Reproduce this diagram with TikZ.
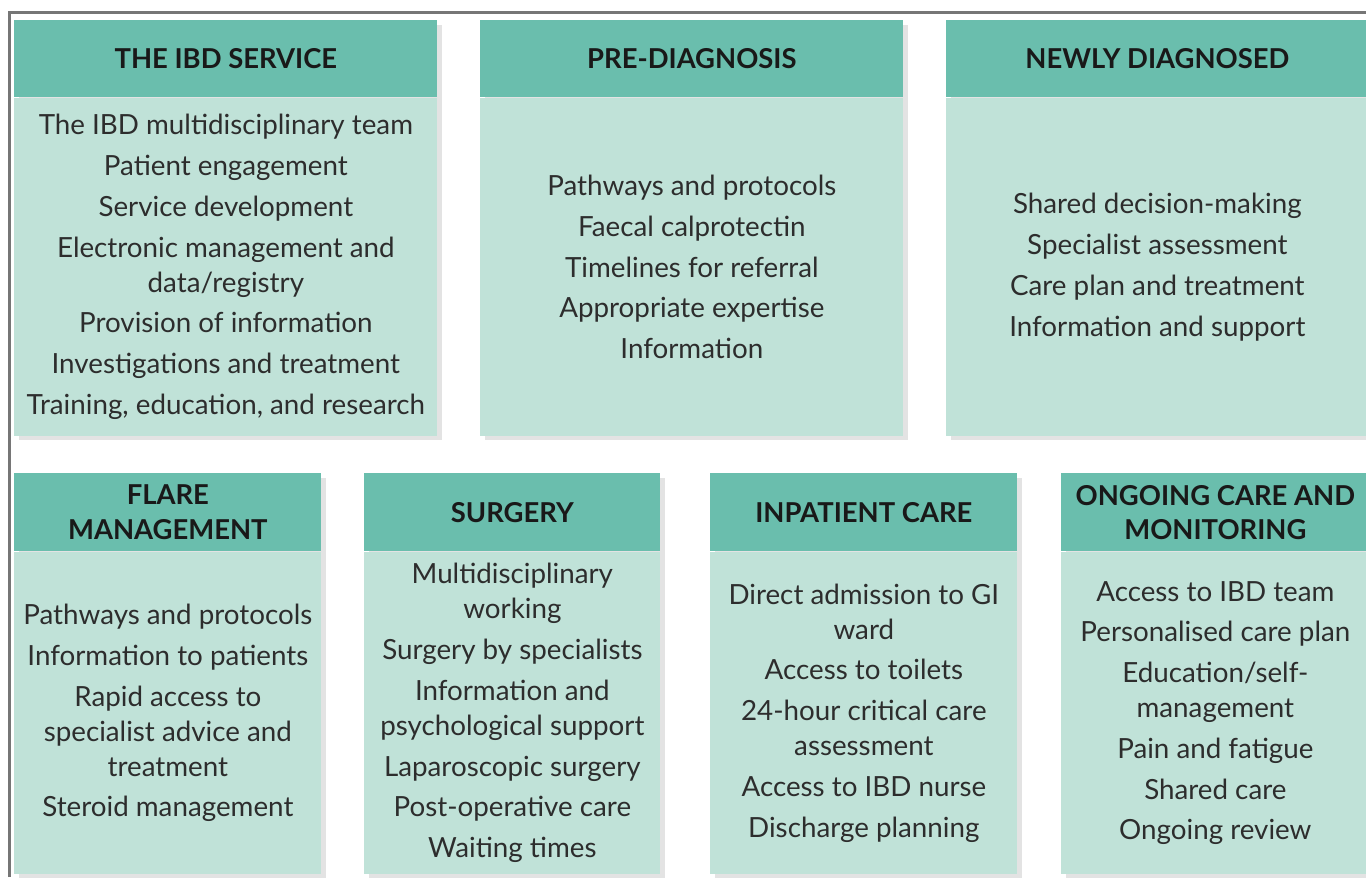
\documentclass[tikz,border=0pt]{standalone}
\usepackage{fontspec}
\setmainfont{Lato}
\usetikzlibrary{positioning,shadows}

\definecolor{headgreen}{RGB}{106,190,173}
\definecolor{bodygreen}{RGB}{192,226,216}
\definecolor{textgrey}{RGB}{45,45,45}
\definecolor{framegrey}{RGB}{118,118,118}

\def\pxu{0.02cm}
\def\gap{\\[3.3pt]}

\tikzset{
  boxshadow/.style={drop shadow={opacity=0.22, shadow xshift=2.5pt, shadow yshift=-2.5pt}},
  headbox/.style={fill=headgreen, boxshadow, inner sep=0pt, align=center,
    font=\fontsize{15.6}{19.6}\selectfont\bfseries, text=black!90,
    anchor=north west, minimum height=77*\pxu},
  bodybox/.style={fill=bodygreen, boxshadow, inner sep=0pt, align=center,
    font=\fontsize{15.8}{19.9}\selectfont, text=textgrey},
}

\begin{document}
\begin{tikzpicture}[x=0.02cm,y=-0.02cm]
  \useasboundingbox (0,0) rectangle (1366,877);
  \draw[framegrey, line width=3*\pxu] (9,877) -- (9,12) -- (1366,12);

  % top row
  \node[headbox, minimum width=423*\pxu] (servH) at (14,20) {THE IBD SERVICE};
  \node[bodybox, below=0pt of servH, minimum width=423*\pxu, minimum height=338*\pxu] (servB)
    {The IBD multidisciplinary team\gap Patient engagement\gap Service development\gap
     Electronic management and\\ data/registry\gap Provision of information\gap
     Investigations and treatment\gap Training, education, and research};

  \node[headbox, minimum width=423*\pxu] (preH) at (480,20) {PRE-DIAGNOSIS};
  \node[bodybox, below=0pt of preH, minimum width=423*\pxu, minimum height=338*\pxu] (preB)
    {Pathways and protocols\gap Faecal calprotectin\gap Timelines for referral\gap
     Appropriate expertise\gap Information};

  \node[headbox, minimum width=422*\pxu] (newH) at (946,20) {NEWLY DIAGNOSED};
  \node[bodybox, below=0pt of newH, minimum width=422*\pxu, minimum height=338*\pxu] (newB)
    {Shared decision-making\gap Specialist assessment\gap Care plan and treatment\gap
     Information and support};

  % bottom row
  \node[headbox, minimum width=307*\pxu, minimum height=78*\pxu] (flareH) at (14,473) {FLARE\\MANAGEMENT};
  \node[bodybox, below=0pt of flareH, minimum width=307*\pxu, minimum height=322*\pxu] (flareB)
    {Pathways and protocols\gap Information to patients\gap Rapid access to\\
     specialist advice and\\ treatment\gap Steroid management};

  \node[headbox, minimum width=296*\pxu, minimum height=78*\pxu] (surgH) at (364,473) {SURGERY};
  \node[bodybox, below=0pt of surgH, minimum width=296*\pxu, minimum height=322*\pxu] (surgB)
    {Multidisciplinary\\ working\gap Surgery by specialists\gap Information and\\
     psychological support\gap Laparoscopic surgery\gap Post-operative care\gap Waiting times};

  \node[headbox, minimum width=307*\pxu, minimum height=78*\pxu] (inpH) at (710,473) {INPATIENT CARE};
  \node[bodybox, below=0pt of inpH, minimum width=307*\pxu, minimum height=322*\pxu] (inpB)
    {Direct admission to GI\\ ward\gap Access to toilets\gap 24-hour critical care\\
     assessment\gap Access to IBD nurse\gap Discharge planning};

  \node[headbox, minimum width=308*\pxu, minimum height=78*\pxu] (ongH) at (1061,473) {ONGOING CARE AND\\MONITORING};
  \node[bodybox, below=0pt of ongH, minimum width=308*\pxu, minimum height=322*\pxu] (ongB)
    {Access to IBD team\gap Personalised care plan\gap Education/self-\\ management\gap
     Pain and fatigue\gap Shared care\gap Ongoing review};
\end{tikzpicture}
\end{document}
